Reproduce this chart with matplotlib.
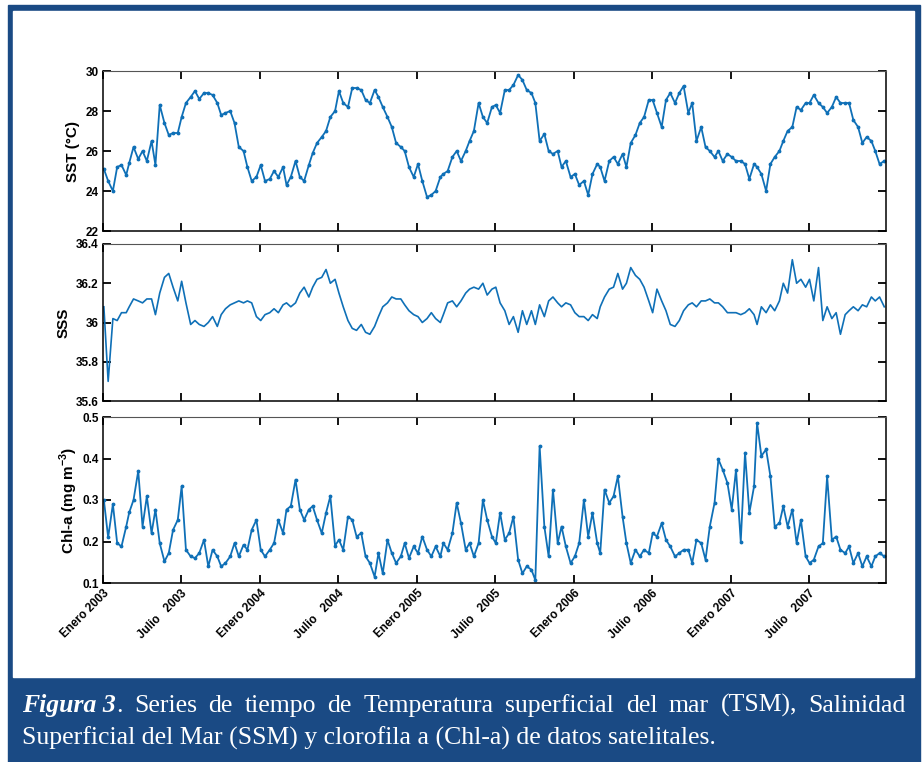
import numpy as np
import matplotlib
matplotlib.use("Agg")
import matplotlib.pyplot as plt
from matplotlib.patches import Rectangle

W, H = 922, 762
BLUE = "#1a4a84"
LINE = "#0f70b7"

plt.rcParams["font.family"] = ["Liberation Sans", "DejaVu Sans"]
plt.rcParams["mathtext.fontset"] = "custom"
plt.rcParams["mathtext.rm"] = "Liberation Sans"
plt.rcParams["mathtext.bf"] = "Liberation Sans:bold"

# three samples per month (early / mid / late), Jan 2003 - Dec 2007
sst_2003 = [25.1, 24.5, 24.0, 25.2, 25.3, 24.8, 25.4, 26.2, 25.6, 26.0, 25.5, 26.5,
            25.3, 28.3, 27.4, 26.8, 26.9, 26.9, 27.7, 28.4, 28.7, 29.0, 28.6, 28.9,
            28.9, 28.8, 28.4, 27.8, 27.9, 28.0, 27.4, 26.2, 26.0, 25.2, 24.5, 24.7]
sst_2004 = [25.3, 24.5, 24.6, 25.0, 24.7, 25.2, 24.3, 24.7, 25.5, 24.7, 24.5, 25.3,
            25.9, 26.4, 26.7, 27.0, 27.7, 28.0, 29.0, 28.4, 28.2, 29.15, 29.15, 29.05,
            28.55, 28.4, 29.05, 28.7, 28.2, 27.7, 27.2, 26.4, 26.2, 26.0, 25.2, 24.7]
sst_2005 = [25.35, 24.5, 23.7, 23.8, 24.0, 24.7, 24.85, 25.0, 25.7, 26.0, 25.5, 26.0,
            26.5, 27.0, 28.4, 27.7, 27.4, 28.2, 28.3, 27.9, 29.05, 29.05, 29.3, 29.8,
            29.55, 29.05, 28.9, 28.4, 26.5, 26.85, 26.0, 25.85, 26.0, 25.2, 25.5, 24.7]
sst_2006 = [24.85, 24.3, 24.5, 23.8, 24.85, 25.35, 25.2, 24.5, 25.5, 25.7, 25.35, 25.85,
            25.2, 26.4, 26.8, 27.4, 27.7, 28.55, 28.55, 27.9, 27.2, 28.55, 28.9, 28.4,
            28.9, 29.25, 27.9, 28.4, 26.5, 27.2, 26.2, 26.0, 25.7, 26.0, 25.5, 25.85]
sst_2007 = [25.7, 25.5, 25.5, 25.35, 24.6, 25.35, 25.2, 24.85, 24.0, 25.35, 25.7, 26.0,
            26.5, 27.0, 27.2, 28.2, 28.05, 28.4, 28.4, 28.8, 28.4, 28.2, 27.9, 28.2,
            28.7, 28.4, 28.4, 28.4, 27.55, 27.2, 26.4, 26.7, 26.5, 26.0, 25.35, 25.5]

sss_2003 = [36.08, 35.70, 36.02, 36.01, 36.05, 36.05, 36.08, 36.12, 36.11, 36.10, 36.12, 36.12,
            36.04, 36.15, 36.23, 36.25, 36.18, 36.11, 36.21, 36.10, 35.99, 36.01, 35.99, 35.98,
            36.00, 36.03, 35.98, 36.04, 36.07, 36.09, 36.10, 36.11, 36.10, 36.11, 36.10, 36.03]
sss_2004 = [36.01, 36.04, 36.05, 36.07, 36.05, 36.09, 36.10, 36.08, 36.10, 36.15, 36.18, 36.13,
            36.18, 36.22, 36.23, 36.27, 36.20, 36.22, 36.15, 36.08, 36.01, 35.97, 35.96, 35.99,
            35.95, 35.94, 35.98, 36.03, 36.08, 36.10, 36.13, 36.12, 36.12, 36.09, 36.06, 36.04]
sss_2005 = [36.03, 36.00, 36.02, 36.05, 36.02, 36.00, 36.04, 36.10, 36.11, 36.08, 36.11, 36.15,
            36.17, 36.18, 36.17, 36.20, 36.14, 36.17, 36.18, 36.10, 36.06, 35.99, 36.03, 35.95,
            36.06, 35.99, 36.06, 35.99, 36.09, 36.03, 36.11, 36.13, 36.10, 36.08, 36.10, 36.09]
sss_2006 = [36.05, 36.03, 36.03, 36.01, 36.04, 36.02, 36.08, 36.13, 36.17, 36.18, 36.25, 36.17,
            36.20, 36.28, 36.24, 36.22, 36.18, 36.11, 36.05, 36.17, 36.11, 36.06, 35.99, 35.98,
            36.01, 36.06, 36.09, 36.10, 36.08, 36.11, 36.11, 36.12, 36.10, 36.10, 36.08, 36.05]
sss_2007 = [36.05, 36.05, 36.04, 36.05, 36.07, 36.04, 35.99, 36.08, 36.05, 36.09, 36.06, 36.11,
            36.20, 36.15, 36.32, 36.20, 36.22, 36.18, 36.22, 36.11, 36.28, 36.01, 36.08, 36.02,
            36.05, 35.94, 36.04, 36.06, 36.08, 36.06, 36.09, 36.08, 36.13, 36.11, 36.13, 36.08]

chl_2003 = [0.300, 0.210, 0.290, 0.196, 0.188, 0.236, 0.270, 0.300, 0.370, 0.236, 0.309, 0.220,
            0.277, 0.196, 0.152, 0.172, 0.228, 0.252, 0.333, 0.180, 0.164, 0.160, 0.172, 0.204,
            0.140, 0.180, 0.164, 0.140, 0.148, 0.164, 0.196, 0.164, 0.192, 0.180, 0.228, 0.252]
chl_2004 = [0.180, 0.164, 0.180, 0.196, 0.252, 0.220, 0.277, 0.285, 0.349, 0.277, 0.252, 0.277,
            0.285, 0.252, 0.220, 0.269, 0.309, 0.190, 0.204, 0.180, 0.260, 0.252, 0.212, 0.220,
            0.164, 0.148, 0.115, 0.172, 0.123, 0.204, 0.172, 0.148, 0.164, 0.196, 0.160, 0.188]
chl_2005 = [0.172, 0.212, 0.180, 0.164, 0.188, 0.164, 0.196, 0.180, 0.220, 0.293, 0.244, 0.180,
            0.196, 0.164, 0.196, 0.300, 0.252, 0.212, 0.196, 0.269, 0.204, 0.220, 0.260, 0.156,
            0.123, 0.140, 0.132, 0.107, 0.430, 0.236, 0.164, 0.325, 0.196, 0.236, 0.188, 0.148]
chl_2006 = [0.164, 0.196, 0.300, 0.212, 0.269, 0.196, 0.172, 0.325, 0.293, 0.309, 0.357, 0.260,
            0.196, 0.148, 0.180, 0.164, 0.180, 0.172, 0.220, 0.212, 0.244, 0.204, 0.188, 0.164,
            0.172, 0.180, 0.180, 0.148, 0.204, 0.196, 0.156, 0.236, 0.293, 0.398, 0.373, 0.341]
chl_2007 = [0.277, 0.373, 0.200, 0.414, 0.269, 0.333, 0.486, 0.406, 0.422, 0.357, 0.236, 0.244,
            0.285, 0.236, 0.277, 0.196, 0.252, 0.164, 0.148, 0.156, 0.188, 0.196, 0.357, 0.204,
            0.212, 0.180, 0.172, 0.188, 0.148, 0.172, 0.140, 0.164, 0.140, 0.164, 0.172, 0.164]

tick_dates = ["2003-01-01", "2003-07-01", "2004-01-01", "2004-07-01", "2005-01-01",
              "2005-07-01", "2006-01-01", "2006-07-01", "2007-01-01", "2007-07-01"]
tick_labels = ["Enero 2003", "Julio   2003", "Enero 2004", "Julio   2004", "Enero 2005",
               "Julio   2005", "Enero 2006", "Julio   2006", "Enero 2007", "Julio   2007"]

sst_ticks = [22, 24, 26, 28, 30]
sss_ticks = [35.6, 35.8, 36.0, 36.2, 36.4]
sss_tick_labels = ["35.6", "35.8", "36", "36.2", "36.4"]
chl_ticks = [0.1, 0.2, 0.3, 0.4, 0.5]

sst = np.array(sst_2003 + sst_2004 + sst_2005 + sst_2006 + sst_2007)
sss = np.array(sss_2003 + sss_2004 + sss_2005 + sss_2006 + sss_2007)
chl = np.array(chl_2003 + chl_2004 + chl_2005 + chl_2006 + chl_2007)

months = np.arange("2003-01", "2008-01", dtype="datetime64[M]").astype("datetime64[D]")
dates = (months[:, None] + np.array([2, 12, 23])).ravel()
xticks = np.array(tick_dates, dtype="datetime64[D]")
xlim = (np.datetime64("2003-01-01"), np.datetime64("2007-12-28"))


def px(x, y):
    return x / W, 1 - y / H


def style_axes(ax, yticks, ylabels, ylim, show_x):
    ax.set_xlim(*xlim)
    ax.set_ylim(*ylim)
    ax.set_yticks(yticks, labels=ylabels, fontweight="bold", fontsize=8.5)
    if show_x:
        ax.set_xticks(xticks, labels=tick_labels, fontweight="bold", fontsize=8.5,
                      rotation=45, ha="right", va="top", rotation_mode="anchor")
    else:
        ax.set_xticks(xticks, labels=[])
    ax.tick_params(direction="in", top=True, right=True, length=6, width=1.3, pad=3)
    for side in ["left", "bottom", "right"]:
        ax.spines[side].set_linewidth(1.1)
    ax.spines["top"].set_color("#555555")


fig = plt.figure(figsize=(W / 100, H / 100), dpi=100)

# blue frame + caption band
fig.add_artist(Rectangle(px(8, 762), 912 / W, 757 / H, color=BLUE,
                         transform=fig.transFigure, zorder=0))
fig.add_artist(Rectangle(px(13, 677), 901 / W, 666 / H, color="white",
                         transform=fig.transFigure, zorder=0))

ax1 = fig.add_axes([103 / W, 1 - 231 / H, 783 / W, 160 / H])
ax1.plot(dates, sst, color=LINE, lw=1.3, marker=".", ms=3.5)
style_axes(ax1, sst_ticks, [str(t) for t in sst_ticks], (22, 30), False)
ax1.set_ylabel("SST (°C)", fontweight="bold", fontsize=11)
ax1.yaxis.set_label_coords(-0.029, 0.5)

ax2 = fig.add_axes([103 / W, 1 - 401 / H, 783 / W, 157 / H])
ax2.plot(dates, sss, color=LINE, lw=1.2)
style_axes(ax2, sss_ticks, sss_tick_labels, (35.6, 36.4), False)
ax2.set_ylabel("SSS", fontweight="bold", fontsize=11)
ax2.yaxis.set_label_coords(-0.041, 0.5)

ax3 = fig.add_axes([103 / W, 1 - 583 / H, 783 / W, 166 / H])
ax3.plot(dates, chl, color=LINE, lw=1.3, marker=".", ms=3.5)
style_axes(ax3, chl_ticks, [str(t) for t in chl_ticks], (0.1, 0.5), True)
ax3.set_ylabel(r"Chl-a (mg m$^{\mathbf{-3}}$)", fontweight="bold", fontsize=11)
ax3.yaxis.set_label_coords(-0.029, 0.5)

# caption, first line justified to the box width
cap = dict(family="Liberation Serif", size=18.5, color="white", va="baseline")
r = fig.canvas.get_renderer()
x0, x1 = 22, 906
y1 = 1 - 712 / H
t_fig = fig.text(x0 / W, y1, "Figura 3", fontstyle="italic", fontweight="bold", **cap)
w_fig = t_fig.get_window_extent(r).width
t_dot = fig.text((x0 + w_fig) / W, y1, ".", **cap)
first_w = w_fig + t_dot.get_window_extent(r).width

words = "Series de tiempo de Temperatura superficial del mar (TSM), Salinidad".split()
texts = [fig.text(0, y1, w, **cap) for w in words]
widths = [t.get_window_extent(r).width for t in texts]
gap = (x1 - x0 - first_w - sum(widths)) / len(words)
x = x0 + first_w + gap
for t, w in zip(texts, widths):
    t.set_x(x / W)
    x += w + gap

fig.text(x0 / W, 1 - 745 / H,
         "Superficial del Mar (SSM) y clorofila a (Chl-a) de datos satelitales.", **cap)

fig.savefig("out.png", dpi=100)
